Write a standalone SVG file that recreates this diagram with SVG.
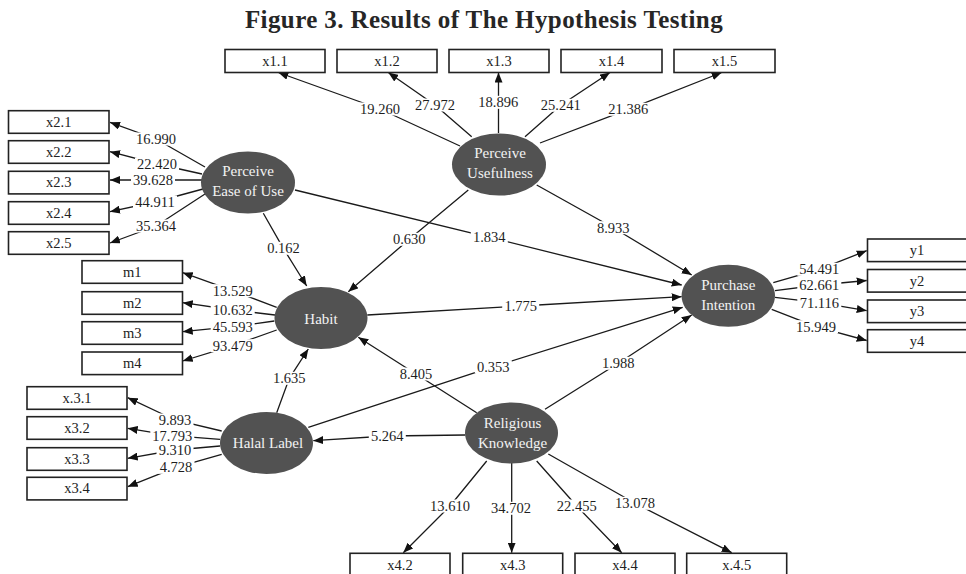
<svg xmlns="http://www.w3.org/2000/svg" width="966" height="574" viewBox="0 0 966 574">
<style>
text{font-family:"Liberation Serif","Times New Roman",serif;}
.title{font-size:25px;font-weight:bold;fill:#262626;text-anchor:middle;letter-spacing:0.4px;}
.box rect{fill:#fff;stroke:#222;stroke-width:1.6;}
.box text{font-size:14.5px;fill:#222;text-anchor:middle;}
.lv ellipse{fill:#525252;}
.lv text{font-size:15px;fill:#f2f2f2;text-anchor:middle;}
.edges path{fill:none;stroke:#1a1a1a;stroke-width:1.3;marker-end:url(#ah);}
.bg rect{fill:#fff;}
.lbl text{font-size:14.5px;fill:#1e1e1e;text-anchor:middle;}
</style>
<defs>
<marker id="ah" markerUnits="userSpaceOnUse" markerWidth="10" markerHeight="8" refX="10" refY="4" orient="auto">
<path d="M0,0 L10,4 L0,8 z" fill="#111"/>
</marker>
</defs>
<rect width="966" height="574" fill="#fff"/>
<text class="title" x="484" y="28">Figure 3. Results of The Hypothesis Testing</text>

<g id="connectors">
<g class="edges">
<path d="M460,146 L380,109 L278.3,72.5"/>
<path d="M471.7,136.7 L435,105 L388.3,72.5"/>
<path d="M498.5,133 L498.5,102 L498.5,72.5"/>
<path d="M525,136.7 L560.7,105.3 L610,72.5"/>
<path d="M540,143 L628.3,109.3 L721.7,72.5"/>
<path d="M205,167 L156,139 L110,122.3"/>
<path d="M202,174 L157,164 L110,151.7"/>
<path d="M202,180 L153,180 L110,180"/>
<path d="M203,189 L155,202 L110,211.7"/>
<path d="M205,194 L156,226 L110,243"/>
<path d="M263.3,213.3 L283.3,248.3 L306.7,286"/>
<path d="M295,190 L489.3,237.3 L681.7,285"/>
<path d="M468.3,190 L409.3,239.3 L348.3,291.7"/>
<path d="M536.7,185 L613.3,227.7 L691.7,275"/>
<path d="M367.3,315 L520.7,306 L681.7,296.7"/>
<path d="M276.7,307.3 L232.7,290.7 L182.7,272.7"/>
<path d="M275,315 L232.7,310 L182.7,302.7"/>
<path d="M274.3,321 L232.7,326.7 L182.7,331.7"/>
<path d="M276.7,330 L232.7,345.7 L182.7,361"/>
<path d="M276.7,412.7 L289.3,378.3 L308.3,349"/>
<path d="M476.7,412.7 L416,374 L358.3,337.3"/>
<path d="M308.3,427.3 L493.3,366.7 L682.7,307.3"/>
<path d="M545,409.3 L618.3,363.3 L691.7,315"/>
<path d="M465,435 L387.3,436 L313.3,440.7"/>
<path d="M221.7,431 L175,420 L127.7,397.7"/>
<path d="M220,439.3 L172.3,435.7 L127.7,428.3"/>
<path d="M220,446 L175,450 L127.7,458.3"/>
<path d="M221.7,454.3 L176,467.3 L127.7,486.7"/>
<path d="M486.7,461 L450,506 L403.3,552.7"/>
<path d="M511.7,463 L511.7,508 L511.7,552.7"/>
<path d="M536.7,461 L576.7,506 L621.7,552.7"/>
<path d="M548.3,454 L635,503.3 L731.7,552.7"/>
<path d="M773.3,282.7 L819.3,269.3 L866.7,250.7"/>
<path d="M775,290.7 L819.3,285 L866.7,280.5"/>
<path d="M775,297.3 L819.3,302.7 L866.7,310.7"/>
<path d="M771.7,309.3 L816,326.7 L866.7,340.5"/>
</g>
<g class="bg">
<rect x="358" y="102.5" width="44" height="13"/>
<rect x="413" y="98.5" width="44" height="13"/>
<rect x="476.3" y="95.8" width="44" height="13"/>
<rect x="538.7" y="98.8" width="44" height="13"/>
<rect x="606.3" y="102.8" width="44" height="13"/>
<rect x="134" y="132.5" width="44" height="13"/>
<rect x="135" y="157.5" width="44" height="13"/>
<rect x="131" y="173.5" width="44" height="13"/>
<rect x="133" y="195.5" width="44" height="13"/>
<rect x="134" y="219.5" width="44" height="13"/>
<rect x="265" y="241.8" width="37" height="13"/>
<rect x="470.8" y="230.8" width="37" height="13"/>
<rect x="390.8" y="232.8" width="37" height="13"/>
<rect x="594.8" y="221.2" width="37" height="13"/>
<rect x="502.2" y="299.5" width="37" height="13"/>
<rect x="210.7" y="284.2" width="44" height="13"/>
<rect x="210.7" y="303.5" width="44" height="13"/>
<rect x="210.7" y="320.2" width="44" height="13"/>
<rect x="210.7" y="339.2" width="44" height="13"/>
<rect x="270.8" y="371.8" width="37" height="13"/>
<rect x="397.5" y="367.5" width="37" height="13"/>
<rect x="474.8" y="360.2" width="37" height="13"/>
<rect x="599.8" y="356.8" width="37" height="13"/>
<rect x="368.8" y="429.5" width="37" height="13"/>
<rect x="156.5" y="413.5" width="37" height="13"/>
<rect x="150.3" y="429.2" width="44" height="13"/>
<rect x="156.5" y="443.5" width="37" height="13"/>
<rect x="157.5" y="460.8" width="37" height="13"/>
<rect x="428" y="499.5" width="44" height="13"/>
<rect x="489" y="501.8" width="44" height="13"/>
<rect x="554.7" y="499.5" width="44" height="13"/>
<rect x="613" y="496.8" width="44" height="13"/>
<rect x="797.3" y="262.8" width="44" height="13"/>
<rect x="797.3" y="278.5" width="44" height="13"/>
<rect x="797.3" y="296.2" width="44" height="13"/>
<rect x="794" y="320.2" width="44" height="13"/>
</g>
<g class="lbl">
<text x="380" y="114">19.260</text>
<text x="435" y="110">27.972</text>
<text x="498.3" y="107.3">18.896</text>
<text x="560.7" y="110.3">25.241</text>
<text x="628.3" y="114.3">21.386</text>
<text x="156" y="144">16.990</text>
<text x="157" y="169">22.420</text>
<text x="153" y="185">39.628</text>
<text x="155" y="207">44.911</text>
<text x="156" y="231">35.364</text>
<text x="283.5" y="253.3">0.162</text>
<text x="489.3" y="242.3">1.834</text>
<text x="409.3" y="244.3">0.630</text>
<text x="613.3" y="232.7">8.933</text>
<text x="520.7" y="311">1.775</text>
<text x="232.7" y="295.7">13.529</text>
<text x="232.7" y="315">10.632</text>
<text x="232.7" y="331.7">45.593</text>
<text x="232.7" y="350.7">93.479</text>
<text x="289.3" y="383.3">1.635</text>
<text x="416" y="379">8.405</text>
<text x="493.3" y="371.7">0.353</text>
<text x="618.3" y="368.3">1.988</text>
<text x="387.3" y="441">5.264</text>
<text x="175" y="425">9.893</text>
<text x="172.3" y="440.7">17.793</text>
<text x="175" y="455">9.310</text>
<text x="176" y="472.3">4.728</text>
<text x="450" y="511">13.610</text>
<text x="511" y="513.3">34.702</text>
<text x="576.7" y="511">22.455</text>
<text x="635" y="508.3">13.078</text>
<text x="819.3" y="274.3">54.491</text>
<text x="819.3" y="290">62.661</text>
<text x="819.3" y="307.7">71.116</text>
<text x="816" y="331.7">15.949</text>
</g>
</g>

<g id="x1_1" class="box"><rect x="225" y="49.5" width="100" height="23"/><text x="275" y="65.5">x1.1</text></g>
<g id="x1_2" class="box"><rect x="337" y="49.5" width="100" height="23"/><text x="387" y="65.5">x1.2</text></g>
<g id="x1_3" class="box"><rect x="449" y="49.5" width="100" height="23"/><text x="499" y="65.5">x1.3</text></g>
<g id="x1_4" class="box"><rect x="561" y="49.5" width="101" height="23"/><text x="611.5" y="65.5">x1.4</text></g>
<g id="x1_5" class="box"><rect x="674" y="49.5" width="101" height="23"/><text x="724.5" y="65.5">x1.5</text></g>

<g id="x2_1" class="box"><rect x="8.5" y="110.7" width="100.5" height="22.6"/><text x="58.7" y="126.7">x2.1</text></g>
<g id="x2_2" class="box"><rect x="8.5" y="140.7" width="100.5" height="22.6"/><text x="58.7" y="156.7">x2.2</text></g>
<g id="x2_3" class="box"><rect x="8.5" y="171.3" width="100.5" height="22.6"/><text x="58.7" y="187.3">x2.3</text></g>
<g id="x2_4" class="box"><rect x="8.5" y="201.7" width="100.5" height="22.6"/><text x="58.7" y="217.7">x2.4</text></g>
<g id="x2_5" class="box"><rect x="8.5" y="231.7" width="100.5" height="22.6"/><text x="58.7" y="247.7">x2.5</text></g>

<g id="m1" class="box"><rect x="82" y="260.7" width="100.5" height="22.6"/><text x="132.2" y="276.7">m1</text></g>
<g id="m2" class="box"><rect x="82" y="291.7" width="100.5" height="22.6"/><text x="132.2" y="307.7">m2</text></g>
<g id="m3" class="box"><rect x="82" y="321.7" width="100.5" height="22.6"/><text x="132.2" y="337.7">m3</text></g>
<g id="m4" class="box"><rect x="82" y="352" width="100.5" height="22.6"/><text x="132.2" y="368">m4</text></g>

<g id="x3_1" class="box"><rect x="27" y="386.7" width="100" height="22.6"/><text x="77" y="402.7">x.3.1</text></g>
<g id="x3_2" class="box"><rect x="27" y="416.7" width="100" height="22.6"/><text x="77" y="432.7">x3.2</text></g>
<g id="x3_3" class="box"><rect x="27" y="447.7" width="100" height="22.6"/><text x="77" y="463.7">x3.3</text></g>
<g id="x3_4" class="box"><rect x="27" y="477.3" width="100" height="22.6"/><text x="77" y="493.3">x3.4</text></g>

<g id="x4_2" class="box"><rect x="350" y="553.3" width="100" height="23"/><text x="400" y="569.5">x4.2</text></g>
<g id="x4_3" class="box"><rect x="462.7" y="553.3" width="100" height="23"/><text x="512.7" y="569.5">x4.3</text></g>
<g id="x4_4" class="box"><rect x="575" y="553.3" width="100" height="23"/><text x="625" y="569.5">x4.4</text></g>
<g id="x4_5" class="box"><rect x="686.7" y="553.3" width="100" height="23"/><text x="736.7" y="569.5">x.4.5</text></g>

<g id="y1" class="box"><rect x="867.5" y="239" width="100" height="22.6"/><text x="917" y="255">y1</text></g>
<g id="y2" class="box"><rect x="867.5" y="269.5" width="100" height="22.6"/><text x="917" y="285.5">y2</text></g>
<g id="y3" class="box"><rect x="867.5" y="300" width="100" height="22.6"/><text x="917" y="316">y3</text></g>
<g id="y4" class="box"><rect x="867.5" y="329.7" width="100" height="22.6"/><text x="917" y="345.7">y4</text></g>

<g id="PU" class="lv"><ellipse cx="499" cy="164.5" rx="47" ry="31"/><text x="500" y="158.3">Perceive</text><text x="500" y="178">Usefulness</text></g>
<g id="PEU" class="lv"><ellipse cx="248" cy="182.5" rx="47" ry="31"/><text x="248" y="176">Perceive</text><text x="248" y="196">Ease of Use</text></g>
<g id="Habit" class="lv"><ellipse cx="321" cy="318" rx="46.5" ry="31"/><text x="321" y="324">Habit</text></g>
<g id="PI" class="lv"><ellipse cx="728.3" cy="295.8" rx="46.7" ry="31"/><text x="728.3" y="290">Purchase</text><text x="728.3" y="310">Intention</text></g>
<g id="HL" class="lv"><ellipse cx="266.5" cy="443" rx="46.5" ry="31"/><text x="268" y="447.5">Halal Label</text></g>
<g id="RK" class="lv"><ellipse cx="511.5" cy="433" rx="46.5" ry="30.5"/><text x="512.5" y="428.3">Religious</text><text x="512.5" y="448">Knowledge</text></g>
</svg>
